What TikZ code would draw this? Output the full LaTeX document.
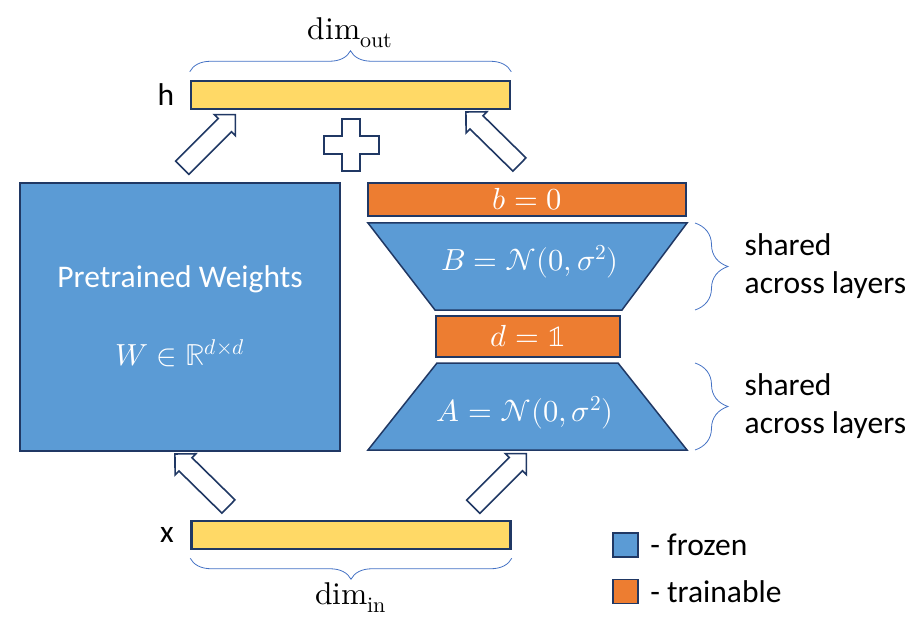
\documentclass[tikz,border=0pt]{standalone}
\usepackage{fontspec}
\usepackage{unicode-math}
\setmainfont{Carlito}
\setmathfont{Latin Modern Math}
\usetikzlibrary{positioning,shapes.arrows,decorations.pathreplacing}

\definecolor{frozen}{HTML}{5B9BD5}
\definecolor{trainable}{HTML}{ED7D31}
\definecolor{hidden}{HTML}{FFD966}
\definecolor{edge}{HTML}{203864}
\definecolor{bracec}{HTML}{4472C4}

\tikzset{
  txt/.style={font=\fontsize{31.5}{38}\selectfont,text=black},
  mtxt/.style={font=\fontsize{30.5}{34}\selectfont,text=white},
  vecbar/.style={draw=edge,line width=2.5pt,fill=hidden,minimum width=319pt,minimum height=28pt,inner sep=0pt},
  trainbar/.style={draw=edge,line width=2.5pt,fill=trainable,inner sep=0pt},
  frozenpoly/.style={draw=edge,line width=1.5pt,fill=frozen},
  hollowarr/.style={single arrow,draw=edge,fill=white,line width=1.6pt,
    minimum height=75pt,minimum width=28pt,inner sep=0pt,inner ysep=8.5pt,
    single arrow head extend=5.5pt,single arrow tip angle=90,
    sloped,allow upside down,midway},
  brc/.style={draw=bracec,line width=0.8pt,decorate,decoration={brace,amplitude=21pt}},
  keybox/.style={draw=edge,line width=1.8pt,minimum width=25pt,minimum height=24pt,inner sep=0pt}
}

\begin{document}
\begin{tikzpicture}[x=1pt,y=-1pt]
\useasboundingbox (0,0) rectangle (914,623);
% input and output vectors
\node[vecbar] (hvec) at (350.5,95) {};
\node[vecbar] (xvec) at (351,535) {};
\node[txt,left=12pt of hvec] (hlbl) {h};
\node[txt,left=13pt of xvec] (xlbl) {x};
\draw[brc] ([yshift=8pt]hvec.north west) -- ([yshift=8pt]hvec.north east)
  node[midway,above=20pt,txt] (dimout) {$\symup{dim}_{\symup{out}}$};
\draw[brc] ([yshift=-8pt]xvec.south east) -- ([yshift=-8pt]xvec.south west)
  node[midway,below=21pt,txt] (dimin) {$\symup{dim}_{\symup{in}}$};

% pretrained weights
\node[draw=edge,line width=2.2pt,fill=frozen,minimum width=320pt,minimum height=268pt,inner sep=0pt] (wbox) at (180,317) {};
\node[txt,text=white] (wname) at (180,279) {Pretrained Weights};
\node[mtxt] (wmath) at (180,353) {$W\in\mathbb{R}^{d\times d}$};

% adapter side
\node[trainbar,minimum width=318pt,minimum height=33pt] (bbar) at (527,199.5) {};
\node[mtxt] at (bbar) {$b=0$};
\coordinate (Btl) at (368,223); \coordinate (Btr) at (687,223);
\coordinate (Bbr) at (622,310); \coordinate (Bbl) at (435,310);
\draw[frozenpoly] (Btl) -- (Btr) -- (Bbr) -- (Bbl) -- cycle;
\node[mtxt] (Bmath) at (530,262) {$B=\mathcal{N}(0,\sigma^2)$};
\node[trainbar,minimum width=184pt,minimum height=41pt] (dbar) at (528,336.5) {};
\node[mtxt] at (dbar) {$d=\mathbb{1}$};
\coordinate (Atl) at (437,363); \coordinate (Atr) at (618,363);
\coordinate (Abr) at (687,450); \coordinate (Abl) at (368,450);
\draw[frozenpoly] (Atl) -- (Atr) -- (Abr) -- (Abl) -- cycle;
\node[mtxt] (Amath) at (525,413) {$A=\mathcal{N}(0,\sigma^2)$};

\draw[brc,decoration={amplitude=33pt}] ([xshift=8pt]Btr) -- ([xshift=8pt]Btr |- Bbr)
  node[midway,right=46pt,txt,align=left] (shareB) {shared\\across layers};
\draw[brc,decoration={amplitude=33pt}] ([xshift=8pt]Abr |- Atr) -- ([xshift=8pt]Abr)
  node[midway,right=46pt,txt,align=left] (shareA) {shared\\across layers};

% hollow arrows
\coordinate (tl0) at (179,171); \coordinate (tl1) at (232,118);
\coordinate (tr0) at (523,168); \coordinate (tr1) at (469,115);
\coordinate (bl0) at (232,510); \coordinate (bl1) at (178,457);
\coordinate (br0) at (470,510); \coordinate (br1) at (523,457);
\path (tl0) -- (tl1) node[hollowarr] (atl) {};
\path (tr0) -- (tr1) node[hollowarr] (atr) {};
\path (bl0) -- (bl1) node[hollowarr] (abl) {};
\path (br0) -- (br1) node[hollowarr] (abr) {};

% plus sign
\coordinate (plus) at (351,145);
\draw[draw=edge,line width=2pt,fill=white] (plus) ++(-9,-26) -- ++(18,0) -- ++(0,17) -- ++(18.5,0)
  -- ++(0,18) -- ++(-18.5,0) -- ++(0,17) -- ++(-18,0) -- ++(0,-17) -- ++(-18.5,0)
  -- ++(0,-18) -- ++(18.5,0) -- cycle;

% legend
\node[keybox,fill=frozen] (kfrozen) at (625.5,545) {};
\node[keybox,fill=trainable] (ktrain) at (625.5,591.5) {};
\node[txt,right=8pt of kfrozen] (lfrozen) {- frozen};
\node[txt,right=8pt of ktrain] (ltrain) {- trainable};
\end{tikzpicture}
\end{document}
